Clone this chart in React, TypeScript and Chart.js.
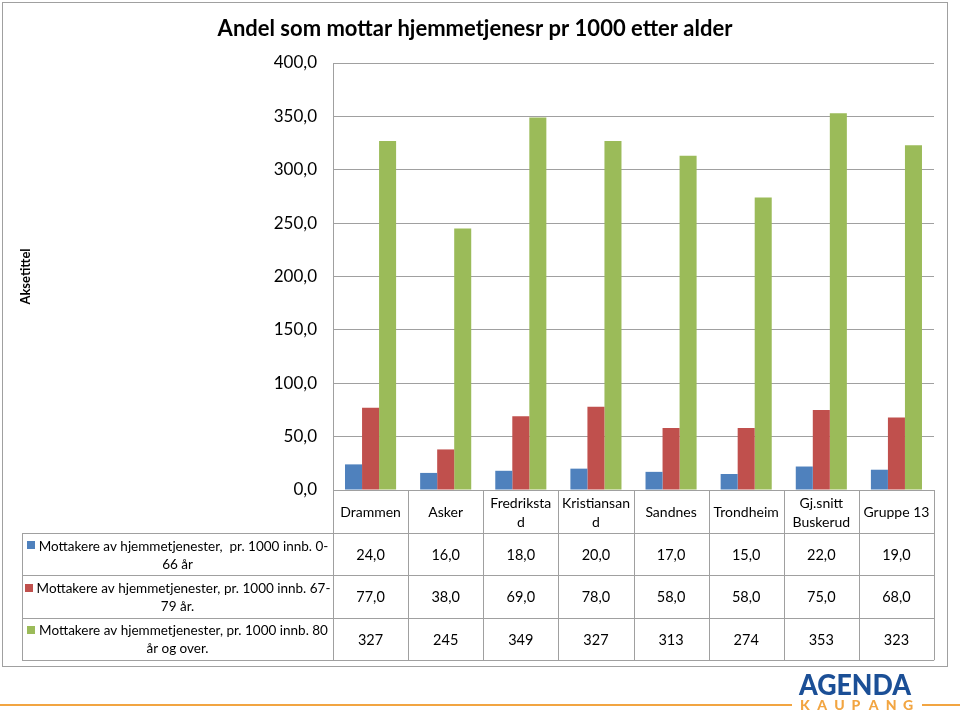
import React, { useEffect, useRef } from "react";
import { Chart, registerables } from "chart.js";

Chart.register(...registerables);

const chartTitle = "Andel som mottar hjemmetjenesr pr 1000 etter alder";
const yAxisTitle = "Aksetittel";
const categories: string[][] = [
  ["Drammen"],
  ["Asker"],
  ["Fredriksta", "d"],
  ["Kristiansan", "d"],
  ["Sandnes"],
  ["Trondheim"],
  ["Gj.snitt", "Buskerud"],
  ["Gruppe 13"],
];
const seriesNames = [
  "Mottakere av hjemmetjenester,  pr. 1000 innb. 0-66 år",
  "Mottakere av hjemmetjenester, pr. 1000 innb. 67-79 år.",
  "Mottakere av hjemmetjenester, pr. 1000 innb. 80 år og over.",
];
const age0to66 = [24, 16, 18, 20, 17, 15, 22, 19];
const age67to79 = [77, 38, 69, 78, 58, 58, 75, 68];
const age80plus = [327, 245, 349, 327, 313, 274, 353, 323];
const seriesDecimals = [1, 1, 0];
const seriesColors = ["#4F81BD", "#C0504D", "#9BBB59"];
const yTicks = { min: 0, max: 400, step: 50 };

const FONT = "Lato";
const LINE = "#a0a0a0";

function fmt(v: number, d: number) {
  return v.toFixed(d).replace(".", ",");
}

function wrapText(ctx: CanvasRenderingContext2D, text: string, maxW: number): string[] {
  const tokens = text.split(/(?<=[ -])/);
  const lines: string[] = [];
  let line = "";
  for (const t of tokens) {
    const cand = line + t;
    if (line && ctx.measureText(cand.trimEnd()).width > maxW) {
      lines.push(line.trimEnd());
      line = t;
    } else {
      line = cand;
    }
  }
  if (line) lines.push(line.trimEnd());
  return lines;
}

const excelPlugin = {
  id: "excelExtras",
  beforeDraw(chart: any) {
    const ctx = chart.ctx as CanvasRenderingContext2D;
    ctx.save();
    ctx.fillStyle = "#ffffff";
    ctx.fillRect(0, 0, chart.width, chart.height);
    ctx.strokeStyle = LINE;
    ctx.lineWidth = 1;
    ctx.strokeRect(2.5, 2.5, 945, 664);
    ctx.fillStyle = "#000";
    ctx.font = `bold 22px ${FONT}`;
    ctx.textAlign = "center";
    ctx.textBaseline = "middle";
    ctx.fillText(chartTitle, 475, 29);
    ctx.restore();
  },
  afterDraw(chart: any) {
    const ctx = chart.ctx as CanvasRenderingContext2D;
    const area = chart.chartArea;
    const xs = chart.scales.x;
    const n = categories.length;
    const colW = (area.right - area.left) / n;
    const headerH = 43;
    const rowH = 42.4;
    const legendLeft = 22;
    const top = area.bottom;
    const tableBottom = top + headerH + rowH * 3;
    const seriesValues = [age0to66, age67to79, age80plus];

    ctx.save();
    ctx.strokeStyle = LINE;
    ctx.lineWidth = 1;
    ctx.beginPath();
    for (let i = 0; i <= n; i++) {
      const x = Math.round(area.left + i * colW) + 0.5;
      ctx.moveTo(x, top);
      ctx.lineTo(x, tableBottom);
    }
    ctx.moveTo(legendLeft + 0.5, top + headerH);
    ctx.lineTo(legendLeft + 0.5, tableBottom);
    for (let r = 0; r <= 3; r++) {
      const y = Math.round(top + headerH + r * rowH) + 0.5;
      ctx.moveTo(legendLeft, y);
      ctx.lineTo(area.right, y);
    }
    ctx.stroke();

    ctx.fillStyle = "#000";
    ctx.textAlign = "center";
    ctx.textBaseline = "middle";
    ctx.font = `14px ${FONT}`;
    categories.forEach((lines, i) => {
      const cx = xs.getPixelForValue(i);
      const lh = 19;
      const cy = top + headerH / 2 + 1;
      lines.forEach((l, k) => {
        ctx.fillText(l, cx, cy + (k - (lines.length - 1) / 2) * lh);
      });
    });
    ctx.font = `14.5px ${FONT}`;
    seriesValues.forEach((vals, r) => {
      const cy = top + headerH + r * rowH + rowH / 2 + 1;
      vals.forEach((v, i) => {
        ctx.fillText(fmt(v, seriesDecimals[r]), xs.getPixelForValue(i), cy);
      });
    });
    ctx.font = `13.5px ${FONT}`;
    const cellCx = (legendLeft + area.left) / 2;
    seriesNames.forEach((name, r) => {
      const lines = wrapText(ctx, name, 298);
      const lh = 18;
      const cy = top + headerH + r * rowH + rowH / 2 + 1;
      lines.forEach((l, k) => {
        const y = cy + (k - (lines.length - 1) / 2) * lh;
        if (k === 0) {
          const w = ctx.measureText(l).width;
          const sq = 8;
          const total = sq + 4 + w;
          const x0 = cellCx - total / 2;
          ctx.fillStyle = seriesColors[r];
          ctx.fillRect(Math.round(x0), Math.round(y - sq / 2 - 1), sq, sq);
          ctx.fillStyle = "#000";
          ctx.textAlign = "left";
          ctx.fillText(l, x0 + sq + 4, y);
          ctx.textAlign = "center";
        } else {
          ctx.fillText(l, cellCx, y);
        }
      });
    });

    ctx.strokeStyle = "#F2A541";
    ctx.lineWidth = 2;
    ctx.beginPath();
    ctx.moveTo(0, 705);
    ctx.lineTo(792, 705);
    ctx.moveTo(922, 705);
    ctx.lineTo(960, 705);
    ctx.stroke();
    ctx.textAlign = "left";
    ctx.textBaseline = "alphabetic";
    ctx.fillStyle = "#1B4F96";
    ctx.font = `900 28px ${FONT}`;
    const agenda = "AGENDA";
    const aw = ctx.measureText(agenda).width;
    ctx.save();
    ctx.translate(799, 695);
    ctx.scale(112 / aw, 1);
    ctx.fillText(agenda, 0, 0);
    ctx.restore();
    ctx.fillStyle = "#F2A541";
    ctx.font = `900 14px ${FONT}`;
    const kaupang = "KAUPANG";
    const step = (913 - 800 - 10) / (kaupang.length - 1);
    for (let i = 0; i < kaupang.length; i++) {
      ctx.fillText(kaupang[i], 800 + i * step, 710);
    }
    ctx.restore();
  },
};

export default function App() {
  const ref = useRef<HTMLCanvasElement | null>(null);
  useEffect(() => {
    if (!ref.current) return;
    const chart = new Chart(ref.current, {
      type: "bar",
      data: {
        labels: categories,
        datasets: [age0to66, age67to79, age80plus].map((d, i) => ({
          label: seriesNames[i],
          data: d,
          backgroundColor: seriesColors[i],
          borderWidth: 0,
          categoryPercentage: 0.68,
          barPercentage: 1.0,
        })),
      },
      options: {
        responsive: false,
        animation: false,
        devicePixelRatio: 1,
        layout: { padding: { left: 14, right: 26, top: 63, bottom: 225 } },
        plugins: {
          legend: { display: false },
          title: { display: false },
          tooltip: { enabled: false },
        },
        scales: {
          x: {
            ticks: { display: false },
            grid: { display: false },
            border: { display: true, color: LINE },
            afterFit(scale: any) {
              scale.height = 0;
            },
          },
          y: {
            min: yTicks.min,
            max: yTicks.max,
            ticks: {
              stepSize: yTicks.step,
              padding: 16,
              color: "#000",
              font: { family: FONT, size: 17 },
              callback: (v: any) => fmt(Number(v), 1),
            },
            grid: { color: LINE, drawTicks: false },
            border: { display: true, color: LINE },
            title: {
              display: true,
              text: yAxisTitle,
              color: "#000",
              font: { family: FONT, size: 13, weight: "bold" },
            },
            afterFit(scale: any) {
              scale.width = 333 - 14;
            },
          },
        },
      },
      plugins: [excelPlugin],
    } as any);
    return () => chart.destroy();
  }, []);
  return (
    <div style={{ position: "absolute", left: 0, top: 0, width: 960, height: 715 }}>
      <canvas ref={ref} width={960} height={715} />
    </div>
  );
}
